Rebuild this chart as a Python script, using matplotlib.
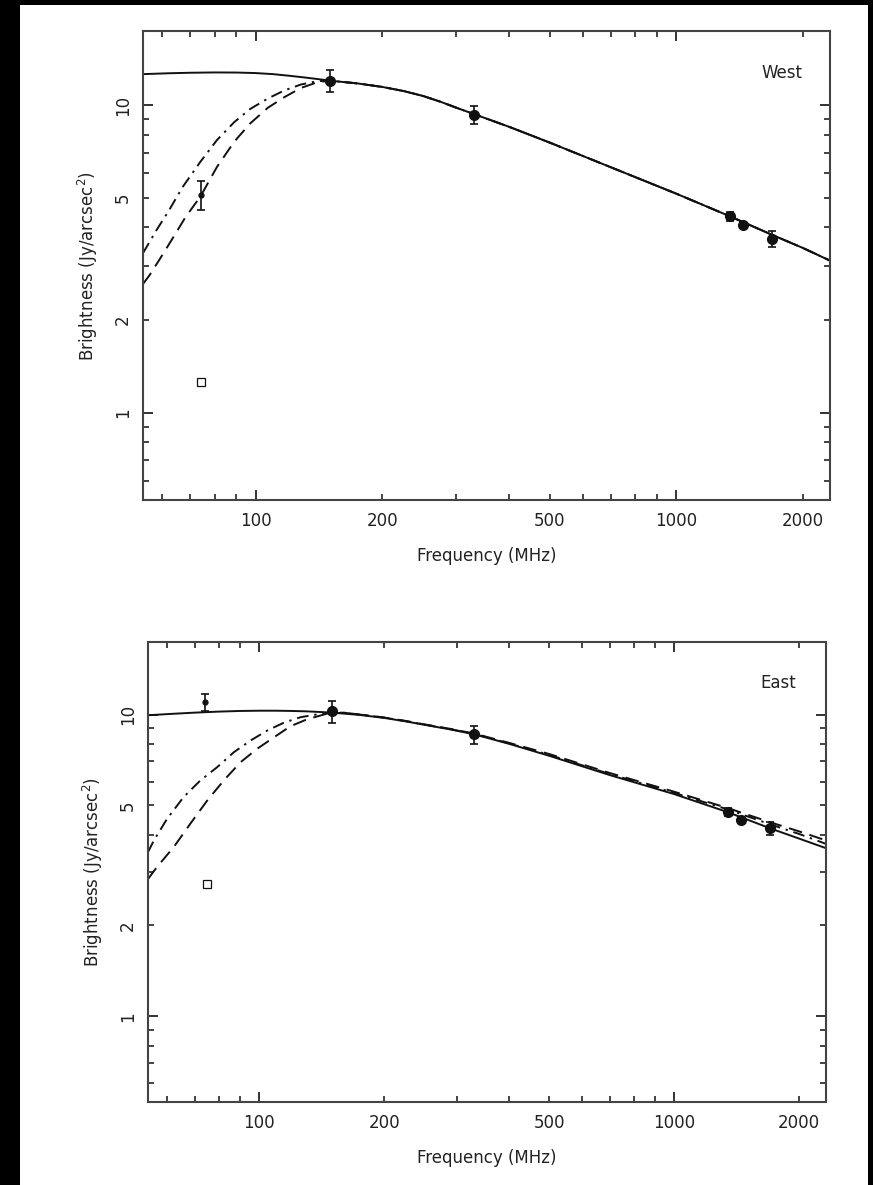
"""
West / East hot-spot brightness vs frequency, two stacked log-log panels.
"""
import matplotlib
matplotlib.use('Agg')
import matplotlib.pyplot as plt
from matplotlib.patches import Rectangle
from matplotlib.ticker import FixedLocator, FuncFormatter

plt.rcParams['font.family'] = ['DejaVu Sans']

# ---- data ----
# West panel
west_freq = [74, 150, 330, 1340, 1440, 1690]
west_val = [5.1, 12.0, 9.3, 4.35, 4.08, 3.68]
west_err = [0.55, 1.0, 0.6, 0.15, 0.1, 0.22]
west_big = [False, True, True, True, True, True]
west_sq_freq = [74]
west_sq_val = [1.26]

west_solid_f = [54, 62, 70, 80, 90, 100, 110, 120, 130, 140, 150, 175, 200, 225, 250, 275, 300,
                330, 400, 500, 700, 1000, 1340, 1700, 2000, 2320]
west_solid_v = [12.6, 12.68, 12.73, 12.76, 12.75, 12.7, 12.6, 12.45, 12.3, 12.15, 12.0, 11.75, 11.45,
                11.1, 10.7, 10.25, 9.8, 9.35, 8.5, 7.55, 6.27, 5.15, 4.35, 3.77, 3.43, 3.12]

west_dash_f = [54, 56, 60, 64, 68, 74, 81, 89, 97, 107, 117, 128, 140, 150, 175,
               200, 225, 250, 275, 300, 330, 400, 500, 700, 1000, 1340, 1700, 2000, 2320]
west_dash_v = [2.62, 2.8, 3.25, 3.75, 4.3, 5.05, 6.3, 7.6, 8.7, 9.8, 10.6, 11.35, 11.85, 12.0, 11.75,
               11.45, 11.1, 10.7, 10.25, 9.8, 9.35, 8.5, 7.55, 6.27, 5.15, 4.35, 3.77, 3.43, 3.12]

west_dd_f = [54, 58, 62, 67, 74, 81, 89, 97, 107, 117, 128, 140, 150, 175,
             200, 225, 250, 275, 300, 330, 400, 500, 700, 1000, 1340, 1700, 2000, 2320]
west_dd_v = [3.3, 3.9, 4.5, 5.4, 6.55, 7.7, 8.8, 9.7, 10.5, 11.15, 11.65, 11.95, 12.0, 11.75,
             11.45, 11.1, 10.7, 10.25, 9.8, 9.35, 8.5, 7.55, 6.27, 5.15, 4.35, 3.77, 3.43, 3.12]

# East panel
east_freq = [74, 150, 330, 1345, 1445, 1700]
east_val = [11.0, 10.25, 8.6, 4.77, 4.49, 4.2]
east_err = [0.7, 0.85, 0.6, 0.15, 0.1, 0.22]
east_big = [False, True, True, True, True, True]
east_sq_freq = [75]
east_sq_val = [2.75]

east_solid_f = [54, 62, 70, 80, 90, 100, 110, 120, 130, 140, 150, 175, 200, 225, 250, 290, 330,
                400, 500, 700, 1000, 1345, 1700, 2000, 2330]
east_solid_v = [9.95, 10.06, 10.15, 10.23, 10.28, 10.3, 10.3, 10.28, 10.25, 10.2, 10.15, 9.97, 9.75,
                9.5, 9.25, 8.92, 8.6, 8.0, 7.3, 6.3, 5.45, 4.75, 4.2, 3.88, 3.6]

east_dash_f = [54, 56.7, 62.3, 68.3, 75, 82.2, 90.2, 98.9, 108.5, 119, 130.6, 145, 160, 175,
               200, 225, 250, 290, 330, 400, 500, 700, 1000, 1345, 1700, 2000, 2330]
east_dash_v = [2.85, 3.12, 3.64, 4.35, 5.19, 6.05, 6.95, 7.7, 8.4, 9.15, 9.65, 10.05, 10.15, 10.0,
               9.78, 9.53, 9.28, 8.96, 8.65, 8.06, 7.4, 6.4, 5.55, 4.9, 4.4, 4.1, 3.82]

east_dd_f = [54, 55.8, 60, 65.8, 72.2, 79.2, 86.9, 95.3, 104.6, 114.7, 125.8, 140, 160, 175,
             200, 225, 250, 290, 330, 400, 500, 700, 1000, 1345, 1700, 2000, 2330]
east_dd_v = [3.5, 3.83, 4.51, 5.33, 6.05, 6.69, 7.5, 8.2, 8.85, 9.4, 9.8, 10.05, 10.15, 10.0,
             9.77, 9.52, 9.27, 8.94, 8.62, 8.03, 7.35, 6.35, 5.5, 4.85, 4.33, 4.02, 3.72]

x_major = [100, 1000]
x_minor = [60, 70, 80, 90, 200, 300, 400, 500, 600, 700, 800, 900, 2000]
x_minor_labels = [200, 500, 2000]
y_major = [1, 10]
y_minor = [0.6, 0.7, 0.8, 0.9, 2, 3, 4, 5, 6, 7, 8, 9]
y_minor_labels = [2, 5]

INK = '#111111'
SPINE = '#444444'


def minor_fmt(keep):
    def f(v, pos):
        for k in keep:
            if abs(v - k) < 1e-6 * k:
                return '%d' % k
        return ''
    return FuncFormatter(f)


def panel(ax, name, freq, val, err, big, sq_f, sq_v,
          sf, sv, df, dv, ddf, ddv):
    ax.set_xscale('log')
    ax.set_yscale('log')

    ax.plot(sf, sv, '-', color=INK, lw=1.4)
    ax.plot(df, dv, color=INK, lw=1.4, dashes=(7, 4))
    ax.plot(ddf, ddv, color=INK, lw=1.4, dashes=(6, 3, 1.2, 3))

    for f, v, e, b in zip(freq, val, err, big):
        ax.errorbar([f], [v], yerr=[e], fmt='o', color=INK,
                    ms=7 if b else 3.5, elinewidth=1.2, capsize=3, capthick=1.2)
    ax.plot(sq_f, sq_v, 's', mfc='white', mec=INK, mew=0.9, ms=5.5)

    ax.set_xlim(54, 2320)
    ax.set_ylim(0.52, 17.4)

    ax.xaxis.set_major_locator(FixedLocator(x_major))
    ax.xaxis.set_minor_locator(FixedLocator(x_minor))
    ax.xaxis.set_major_formatter(FuncFormatter(lambda v, p: '%d' % v))
    ax.xaxis.set_minor_formatter(minor_fmt(x_minor_labels))
    ax.yaxis.set_major_locator(FixedLocator(y_major))
    ax.yaxis.set_minor_locator(FixedLocator(y_minor))
    ax.yaxis.set_major_formatter(FuncFormatter(lambda v, p: '%d' % v))
    ax.yaxis.set_minor_formatter(minor_fmt(y_minor_labels))

    ax.tick_params(which='both', direction='in', top=True, right=True,
                   color=INK, labelsize=12, labelcolor='#222222')
    ax.tick_params(which='major', length=7, width=1.2)
    ax.tick_params(which='minor', length=4, width=1.1)
    ax.tick_params(axis='x', which='both', pad=9)
    ax.tick_params(axis='y', which='both', pad=8)
    for lab in ax.get_yticklabels(which='both'):
        lab.set_rotation(90)
        lab.set_va('center')

    for s in ax.spines.values():
        s.set_color(SPINE)
        s.set_linewidth(1.5)

    ax.set_xlabel('Frequency (MHz)', fontsize=12, color='#222222', labelpad=12)
    ax.set_ylabel('Brightness (Jy/arcsec$^2$)', fontsize=12, color='#222222', labelpad=10)
    ax.text(0.93, 0.91, name, transform=ax.transAxes, ha='center', va='center',
            fontsize=12, color='#222222')


fig = plt.figure(figsize=(8.73, 11.85), dpi=100)

ax1 = fig.add_axes([143 / 873, 1 - 500 / 1185, 687 / 873, 469 / 1185])
panel(ax1, 'West', west_freq, west_val, west_err, west_big, west_sq_freq, west_sq_val,
      west_solid_f, west_solid_v, west_dash_f, west_dash_v, west_dd_f, west_dd_v)

ax2 = fig.add_axes([148 / 873, 1 - 1102 / 1185, 678 / 873, 460 / 1185])
panel(ax2, 'East', east_freq, east_val, east_err, east_big, east_sq_freq, east_sq_val,
      east_solid_f, east_solid_v, east_dash_f, east_dash_v, east_dd_f, east_dd_v)

# black border strips of the scanned page
for x0, y0, w, h in [(0, 0, 20 / 873, 1), (0, 1 - 5 / 1185, 1, 5 / 1185),
                     (868 / 873, 0, 5 / 873, 1)]:
    fig.patches.append(Rectangle((x0, y0), w, h, transform=fig.transFigure,
                                 facecolor='black', edgecolor='none', zorder=10))

fig.savefig('out.png', dpi=100)
